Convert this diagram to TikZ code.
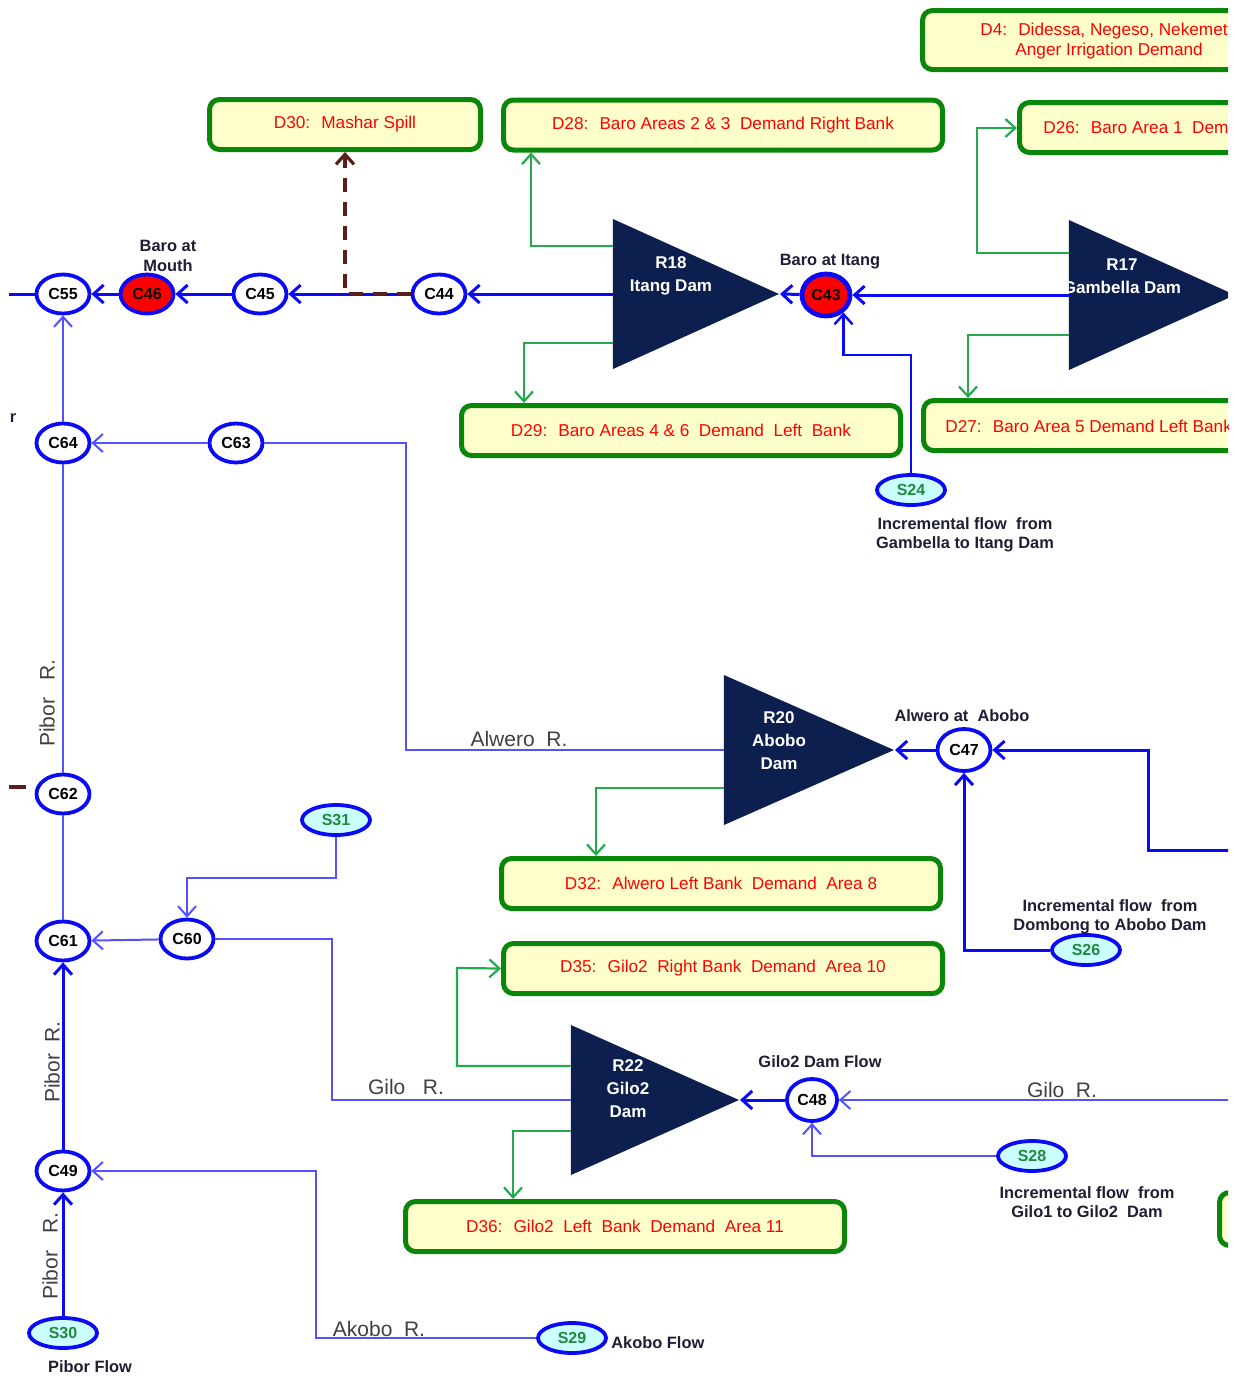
\documentclass[tikz,border=0pt]{standalone}
\usepackage{fontspec}
\setmainfont{Liberation Sans}
\usetikzlibrary{shapes.geometric,arrows.meta}
\definecolor{bblue}{HTML}{0A0AF5}
\definecolor{lblue}{HTML}{5252FF}
\definecolor{gline}{HTML}{22AA4C}
\definecolor{boxborder}{HTML}{0A860A}
\definecolor{boxfill}{HTML}{FFFFCC}
\definecolor{navy}{HTML}{0C1F4E}
\definecolor{srcfill}{HTML}{CCFFFF}
\definecolor{srctext}{HTML}{1F8A3A}
\definecolor{dbrown}{HTML}{5A1E1E}
\definecolor{lbl}{HTML}{1E1E34}
\begin{document}
\begin{tikzpicture}[x=0.5pt,y=-0.5pt,
  dembox/.style={draw=boxborder, line width=2.5pt, fill=boxfill, rounded corners=5pt, minimum height=25pt, inner sep=0pt, text=red, font=\fontsize{8.6}{10}\selectfont},
  boxtxt/.style={inner sep=0pt, text=red, font=\fontsize{8.6}{10}\selectfont},
  cnode/.style={ellipse, draw=bblue, line width=1.9pt, fill=white, minimum width=26.5pt, minimum height=19.5pt, inner sep=0pt, font=\bfseries\fontsize{8}{9}\selectfont},
  rnode/.style={cnode, fill=red},
  snode/.style={ellipse, draw=bblue, line width=1.9pt, fill=srcfill, minimum width=34pt, minimum height=15pt, inner sep=0pt, text=srctext, font=\bfseries\fontsize{8}{9}\selectfont},
  dam/.style={isosceles triangle, isosceles triangle stretches, fill=navy, minimum height=83pt, minimum width=75pt, inner sep=0pt, anchor=apex},
  damtxt/.style={text=white, font=\bfseries\fontsize{8.5}{11.5}\selectfont, align=center, inner sep=0pt},
  lab/.style={text=lbl, font=\bfseries\fontsize{8.2}{9.6}\selectfont, align=center, inner sep=0pt},
  river/.style={text=black!75, font=\fontsize{10.5}{12}\selectfont, inner sep=0pt},
  mainc/.style={draw=bblue, line width=1.5pt},
  thinc/.style={draw=lblue, line width=1pt},
  gconn/.style={draw=gline, line width=1.1pt},
  spill/.style={draw=dbrown, line width=1.6pt, dash pattern=on 7pt off 5pt},
  tipb/.style={-{Straight Barb[length=5pt,width=9pt]}},
]
\useasboundingbox[fill=white] (0,0) rectangle (1235,1378);
\clip (9,0) rectangle (1228,1378);

% ---------- labels drawn first ----------
\node[lab] (lbm) at (168,256) {Baro at\\Mouth};
\node[lab] (lbi) at (830,262) {Baro at Itang};
\node[lab] (law) at (962,716) {Alwero at~ Abobo};
\node[lab] (lgf) at (820,1062) {Gilo2 Dam Flow};
\node[lab] (li24) at (965,535) {Incremental flow~ from\\Gambella to Itang Dam};
\node[lab] (li26) at (1110,917) {Incremental flow~ from\\Dombong to Abobo Dam};
\node[lab] (li28) at (1087,1202) {Incremental flow~ from\\Gilo1 to Gilo2~ Dam};
\node[lab, anchor=west] (lak) at (611,1343) {Akobo Flow};
\node[lab] (lpf) at (90,1367) {Pibor Flow};
\node[lab] (lr) at (13,418) {r};

\node[river] (ralw) at (519,739) {Alwero~ R.};
\node[river] (rg1) at (406,1087) {Gilo~~ R.};
\node[river] (rg2) at (1062,1090) {Gilo~ R.};
\node[river] (rak) at (379,1329) {Akobo~ R.};
\node[river, rotate=90] (rp1) at (47,703) {Pibor~~ R.};
\node[river, rotate=90] (rp2) at (52,1062) {Pibor~ R.};
\node[river, rotate=90] (rp3) at (50,1256) {Pibor~~ R.};

% ---------- demand boxes ----------
\node[dembox, minimum width=197.5pt, minimum height=29.5pt] (D4) at (1120,40) {};
\node[boxtxt, anchor=west] (t4a) at (980,31) {D4:~ Didessa, Negeso, Nekemet};
\node[boxtxt, anchor=west] (t4b) at (1015,51) {Anger Irrigation Demand};
\node[dembox, minimum width=135.5pt] (D30) at (345,124.5) {D30:~ Mashar Spill};
\node[dembox, minimum width=219.5pt] (D28) at (723,125) {D28:~ Baro Areas 2 \& 3~ Demand Right Bank};
\node[dembox, minimum width=219.5pt] (D26) at (1239,127.5) {};
\node[boxtxt, anchor=west] (t26) at (1043,128) {D26:~ Baro Area 1~ Dem};
\node[dembox, minimum width=219.5pt] (D29) at (681,430.5) {D29:~ Baro Areas 4 \& 6~ Demand~ Left~ Bank};
\node[dembox, minimum width=219.5pt] (D27) at (1143,425.5) {};
\node[boxtxt, anchor=west] (t27) at (945,426) {D27:~ Baro Area 5 Demand Left Bank};
\node[dembox, minimum width=219.5pt] (D32) at (721,883.5) {D32:~ Alwero Left Bank~ Demand~ Area 8};
\node[dembox, minimum width=219.5pt] (D35) at (723,968.5) {D35:~ Gilo2~ Right Bank~ Demand~ Area 10};
\node[dembox, minimum width=219.5pt] (D36) at (625,1226.5) {D36:~ Gilo2~ Left~ Bank~ Demand~ Area 11};
\node[dembox, minimum width=219.5pt, minimum height=26.5pt] (Dx) at (1439,1219) {};

% ---------- dams ----------
\node[dam] (R18) at (780,294) {};
\node[damtxt] (t18) at (671,276) {R18\\Itang Dam};
\node[dam] (R17) at (1236,295) {};
\node[damtxt] (t17) at (1122,276) {R17\\Gambella Dam};
\node[dam, minimum height=85pt] (R20) at (895,750) {};
\node[damtxt] (t20) at (779,741) {R20\\Abobo\\Dam};
\node[dam, minimum height=84pt] (R22) at (740,1100) {};
\node[damtxt] (t22) at (628,1089) {R22\\Gilo2\\Dam};

% ---------- junction nodes ----------
\node[cnode] (C55) at (63,294) {C55};
\node[rnode] (C46) at (147,294) {C46};
\node[cnode] (C45) at (260,294) {C45};
\node[cnode] (C44) at (439,294) {C44};
\node[rnode, line width=2.4pt, minimum width=24pt, minimum height=21pt] (C43) at (826,295) {C43};
\node[cnode] (C64) at (63,443) {C64};
\node[cnode] (C63) at (236,443) {C63};
\node[cnode] (C62) at (63,794) {C62};
\node[cnode] (C61) at (63,941) {C61};
\node[cnode] (C60) at (187,939) {C60};
\node[cnode, minimum height=21pt] (C47) at (964,750) {C47};
\node[cnode, minimum width=25pt, minimum height=21pt] (C48) at (812,1100) {C48};
\node[cnode] (C49) at (63,1171) {C49};

% ---------- source nodes ----------
\node[snode] (S24) at (911,490) {S24};
\node[snode] (S31) at (336,820) {S31};
\node[snode] (S26) at (1086,950) {S26};
\node[snode] (S28) at (1032,1156) {S28};
\node[snode] (S29) at (572,1338) {S29};
\node[snode] (S30) at (63,1333) {S30};

% free ends
\coordinate (inW) at (0,294);
\coordinate (inA) at (1240,850);
\coordinate (inG) at (1240,1100);
\coordinate (spA) at (0,787);
\coordinate (spB) at (26,787);

% ---------- Baro main stem ----------
\draw[mainc,tipb] (R18.left corner |- C44) -- (C44);
\draw[mainc,tipb] (C44) -- (C45);
\draw[mainc,tipb] (C45) -- (C46);
\draw[mainc,tipb] (C46) -- (C55);
\draw[mainc] (C55) -- (inW);
\draw[mainc,tipb] (R17.left corner |- C43) -- (C43);
\draw[mainc,tipb] (C43) -- (R18.apex);
\draw[mainc,line width=1.2pt,tipb] (S24.north) |- (C43.-45 |- 0,355) -- (C43.-45);
\draw[spill,-{Straight Barb[length=5pt,width=9pt]}] (C44.west) -| (D30.south);
\draw[spill,solid] (spA) -- (spB);

% ---------- demand withdrawals ----------
\draw[gconn,tipb] (R18.left corner |- 0,246) -| (D28.south -| 531,0);
\draw[gconn,tipb] (R18.left corner |- 0,343) -| (D29.north -| 524,0);
\draw[gconn,tipb] (R17.left corner |- 0,253) -| (977,128) -- (D26.west |- 0,128);
\draw[gconn,tipb] (R17.left corner |- 0,335) -| (D27.north -| 968,0);
\draw[gconn,tipb] (R20.left corner |- 0,788) -| (D32.north -| 596,0);
\draw[gconn,tipb] (R22.left corner |- 0,1066) -| (457,968) -- (D35.west);
\draw[gconn,tipb] (R22.left corner |- 0,1131) -| (D36.north -| 513,0);

% ---------- Pibor system ----------
\draw[thinc,tipb] (C64) -- (C55);
\draw[thinc] (C62) -- (C64);
\draw[thinc] (C61) -- (C62);
\draw[mainc,tipb] (C49) -- (C61);
\draw[mainc,tipb] (S30) -- (C49);
\draw[thinc,tipb] (C63) -- (C64);
\draw[thinc] (R20.left corner |- 0,750) -| (406,443) -- (C63);
\draw[thinc,tipb] (C60) -- (C61);
\draw[thinc,tipb] (S31.south) |- (C60.north |- 0,878) -- (C60.north);
\draw[thinc] (R22.left corner |- 0,1100) -| (332,939) -- (C60);
\draw[thinc,tipb] (S29.west) -| (316,1171) -- (C49);

% ---------- Alwero and Gilo inflows ----------
\draw[mainc,tipb] (C47) -- (R20.apex);
\draw[mainc,tipb] (inA) -| (1148,750) -- (C47);
\draw[mainc,tipb] (S26.west) -| (C47.south);
\draw[mainc,tipb] (C48) -- (R22.apex);
\draw[thinc,tipb] (inG) -- (C48);
\draw[thinc,tipb] (S28.west) -| (C48.south);
\end{tikzpicture}
\end{document}
